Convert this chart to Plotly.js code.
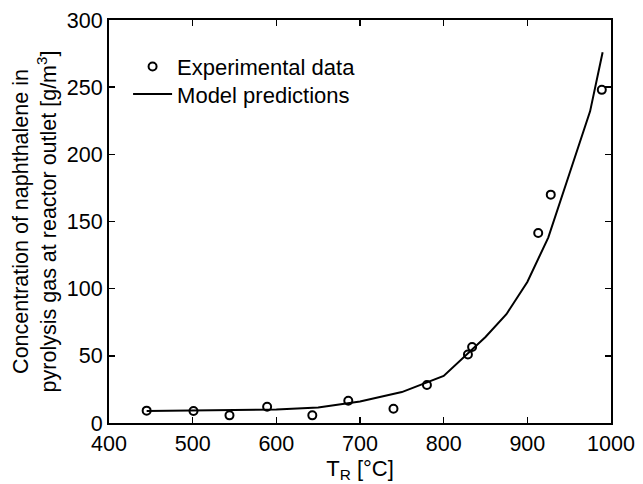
<!DOCTYPE html>
<html>
<head>
<meta charset="utf-8">
<script src="https://cdn.plot.ly/plotly-3.0.1.min.js"></script>
<style>html,body{margin:0;padding:0;background:#fff;}#chart{width:643px;height:484px;}</style>
</head>
<body>
<div id="chart"></div>
<script>
// Experimental data
const expT = [445, 501, 544, 589, 643, 686, 740, 780, 829, 834, 913, 928, 989];
const expC = [9.2, 8.9, 5.7, 12.1, 5.7, 16.6, 10.6, 28.3, 51, 56.6, 141.5, 170, 248];
// Model predictions
const modT = [445, 500, 550, 600, 650, 700, 750, 800, 850, 875, 900, 925, 950, 975, 990];
const modC = [9, 9.2, 9.5, 10, 11.5, 16, 23, 35, 64, 81, 105, 138, 185, 232, 276];

const xTicks = [400, 500, 600, 700, 800, 900, 1000];
const yTicks = [0, 50, 100, 150, 200, 250, 300];

const FONT = "Liberation Sans, Arial, Helvetica, sans-serif";

const traces = [
  {
    x: expT, y: expC, type: 'scatter', mode: 'markers', name: 'Experimental data',
    legend: 'legend',
    marker: {symbol: 'circle-open', size: 8, color: '#000', line: {width: 2, color: '#000'}}
  },
  {
    x: modT, y: modC, type: 'scatter', mode: 'lines', name: 'Model predictions',
    legend: 'legend2',
    line: {color: '#000', width: 2}
  }
];

const axisCommon = {
  showgrid: false, zeroline: false, showline: true, linecolor: '#000', linewidth: 2,
  mirror: 'ticks', ticks: 'inside', ticklen: 6, tickwidth: 1.5, tickcolor: '#000',
  tickfont: {family: FONT, size: 21.5, color: '#000'}
};

const legendCommon = {
  xanchor: 'left', yanchor: 'middle',
  bgcolor: 'rgba(0,0,0,0)', borderwidth: 0, itemwidth: 39,
  font: {family: FONT, size: 22, color: '#000'}
};

const layout = {
  width: 643, height: 484,
  margin: {l: 109, r: 32, t: 20, b: 61},
  paper_bgcolor: '#fff', plot_bgcolor: '#fff',
  showlegend: true,
  legend: Object.assign({}, legendCommon, {x: 0.038, y: 0.884}),
  legend2: Object.assign({}, legendCommon, {x: 0.038, y: 0.816}),
  xaxis: Object.assign({}, axisCommon, {
    range: [400, 1000], tickvals: xTicks, ticktext: xTicks.map(String),
    title: {text: 'T<sub>R</sub> [°C]', font: {family: FONT, size: 22, color: '#000'}, standoff: 2}
  }),
  yaxis: Object.assign({}, axisCommon, {
    range: [0, 300], tickvals: yTicks, ticktext: yTicks.map(String),
    title: {text: 'Concentration of naphthalene in<br>pyrolysis gas at reactor outlet [g/m<sup>3</sup>]', font: {family: FONT, size: 21.5, color: '#000'}, standoff: 4}
  })
};

Plotly.newPlot('chart', traces, layout, {displayModeBar: false, staticPlot: true});
</script>
</body>
</html>
